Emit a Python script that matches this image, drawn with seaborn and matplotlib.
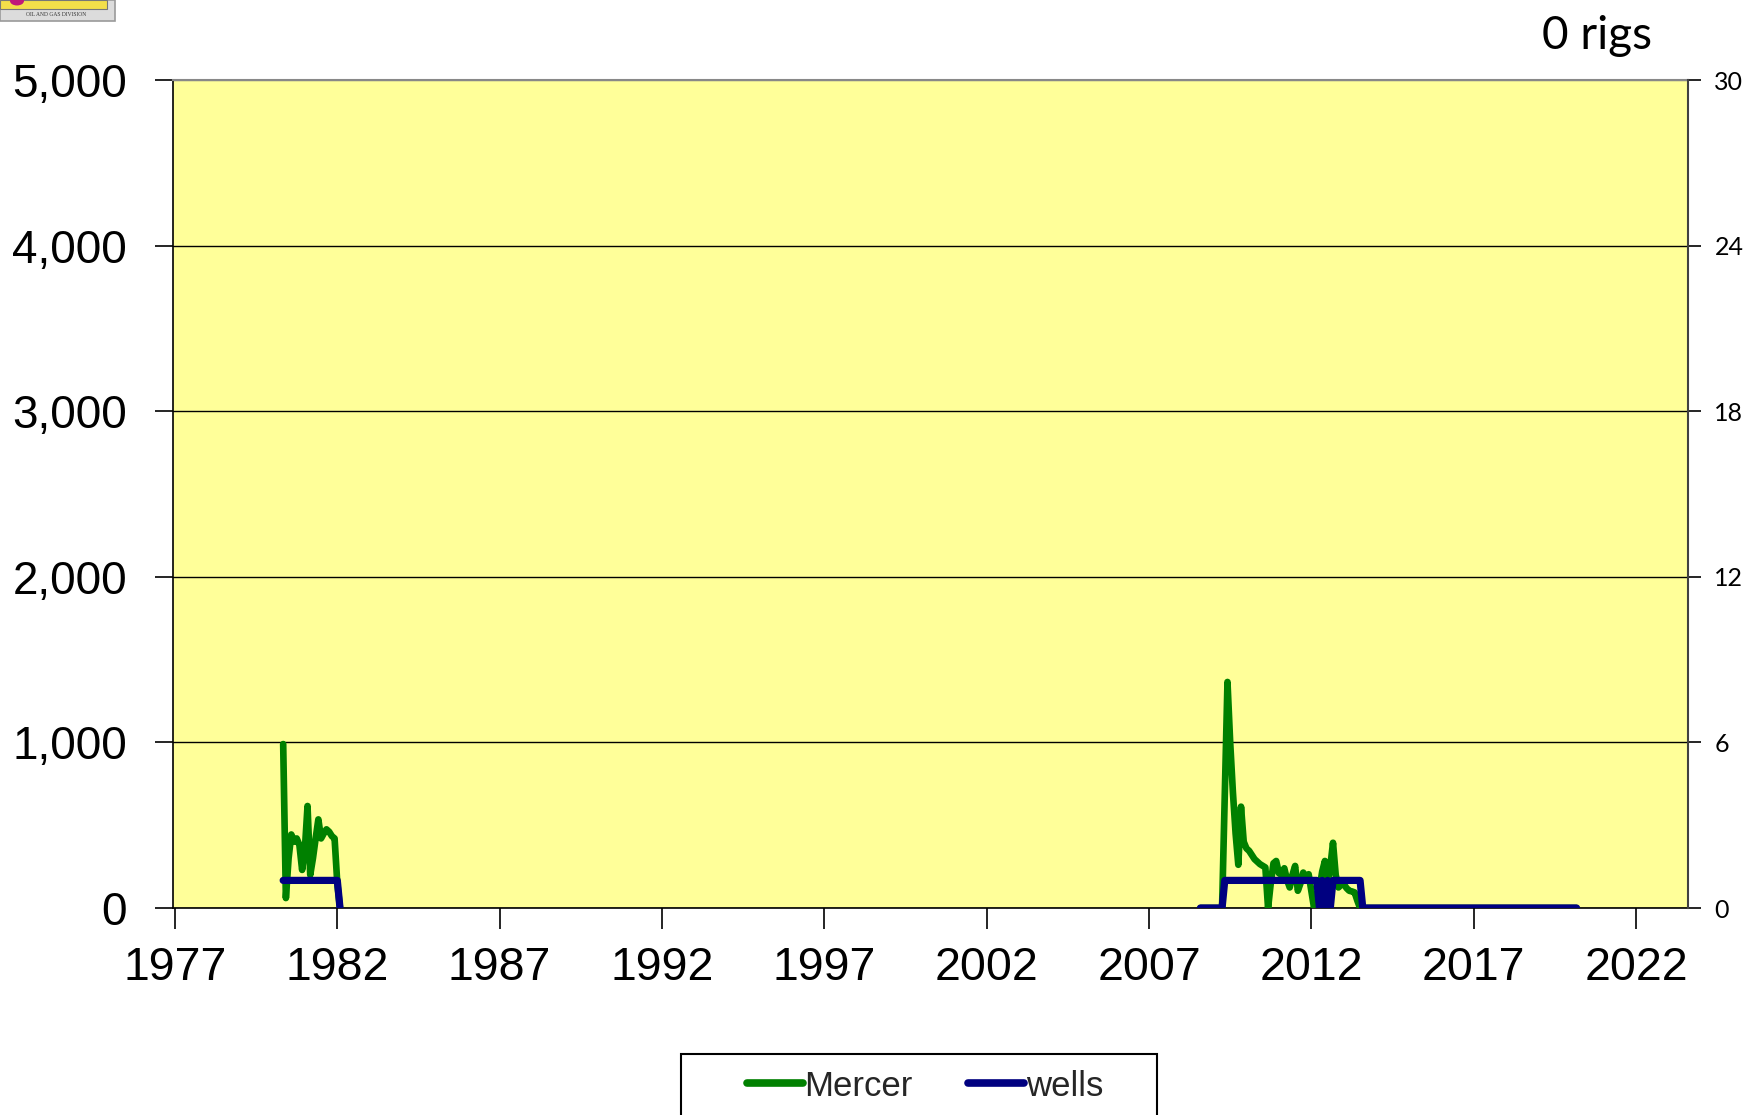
import numpy as np
import pandas as pd
import matplotlib
matplotlib.use("Agg")
import matplotlib.pyplot as plt
import seaborn as sns
from matplotlib.lines import Line2D
from matplotlib.patches import Rectangle, Circle
from matplotlib.ticker import FuncFormatter

# ---------------- data (monthly) ----------------
# period 1 starts May 1980
p1_start_year, p1_start_month = 1980, 5
mercer_1 = [990, 60, 300, 444, 400, 420, 380, 230, 350, 616, 200,
            300, 420, 535, 420, 450, 475, 460, 434, 420, 150, 0]
wells_1 = [1, 1, 1, 1, 1, 1, 1, 1, 1, 1, 1,
           1, 1, 1, 1, 1, 1, 1, 1, 1, 1, 0]

# period 2 starts Aug 2008
p2_start_year, p2_start_month = 2008, 8
mercer_2 = ([0, 0, 0, 0, 0, 0, 0, 0, 0,
             680, 1365, 1000, 700, 450, 261, 612, 400, 360, 345,
             320, 295, 280, 265, 255, 245, 0, 150, 270, 284,
             210, 200, 240, 170, 124, 200, 254, 104, 150, 214,
             180, 204, 100, 0, 80, 114, 220, 284, 144, 250,
             394, 200, 124, 140, 144, 120, 104, 100, 94, 44]
            + [0, 0, 0, 0, 0, 0, 0, 0, 0, 0, 0, 0, 0, 0, 0, 0, 0, 0, 0, 0,
               0, 0, 0, 0, 0, 0, 0, 0, 0, 0, 0, 0, 0, 0, 0, 0, 0, 0, 0, 0,
               0, 0, 0, 0, 0, 0, 0, 0, 0, 0, 0, 0, 0, 0, 0, 0, 0, 0, 0, 0,
               0, 0, 0, 0, 0, 0, 0, 0, 0, 0, 0, 0, 0, 0, 0, 0, 0, 0, 0, 0,
               0])
wells_2 = ([0, 0, 0, 0, 0, 0, 0, 0, 0]
           + [1, 1, 1, 1, 1, 1, 1, 1, 1, 1, 1, 1, 1, 1, 1, 1, 1, 1, 1, 1,
              1, 1, 1, 1, 1, 1, 1, 1, 1, 1, 1, 1, 1, 1, 1]
           + [0, 1, 0, 1, 0]
           + [1, 1, 1, 1, 1, 1, 1, 1, 1, 1, 1]
           + [0, 0, 0, 0, 0, 0, 0, 0, 0, 0, 0, 0, 0, 0, 0, 0, 0, 0, 0, 0,
              0, 0, 0, 0, 0, 0, 0, 0, 0, 0, 0, 0, 0, 0, 0, 0, 0, 0, 0, 0,
              0, 0, 0, 0, 0, 0, 0, 0, 0, 0, 0, 0, 0, 0, 0, 0, 0, 0, 0, 0,
              0, 0, 0, 0, 0, 0, 0, 0, 0, 0, 0, 0, 0, 0, 0, 0, 0, 0, 0, 0])

x_ticks = [1977, 1982, 1987, 1992, 1997, 2002, 2007, 2012, 2017, 2022]
left_ticks = [0, 1000, 2000, 3000, 4000, 5000]
right_ticks = [0, 6, 12, 18, 24, 30]
series_names = ["Mercer", "wells"]
rigs_text = "0 rigs"


def segment(y0, m0, mercer, wells, seg):
    dates = pd.date_range(f"{y0}-{m0:02d}-01", periods=len(mercer), freq="MS")
    year = dates.year + (dates.month - 1) / 12.0
    return pd.DataFrame({"year": year, "mercer": mercer, "wells": wells, "seg": seg})


df = pd.concat([segment(p1_start_year, p1_start_month, mercer_1, wells_1, 1),
                segment(p2_start_year, p2_start_month, mercer_2, wells_2, 2)],
               ignore_index=True)

# ---------------- figure ----------------
sns.set_style("ticks")
plt.rcParams["font.family"] = ["Liberation Sans", "DejaVu Sans"]

W, H = 1744, 1115
fig = plt.figure(figsize=(W / 100, H / 100), dpi=100)
L, R, T, B = 173, 1688, 80, 908
ax = fig.add_axes([L / W, 1 - B / H, (R - L) / W, (B - T) / H])
ax.set_facecolor("#FFFF99")

GREEN = "#008000"
NAVY = "#000080"

sns.lineplot(data=df, x="year", y="mercer", units="seg", estimator=None,
             color=GREEN, lw=4.8, ax=ax, legend=False,
             solid_capstyle="round", solid_joinstyle="round", zorder=3)

ax2 = ax.twinx()
sns.lineplot(data=df, x="year", y="wells", units="seg", estimator=None,
             color=NAVY, lw=5.2, ax=ax2, legend=False,
             solid_capstyle="round", solid_joinstyle="round", zorder=3)

ax.set_xlim(1976.94, 2023.6)
ax.set_ylim(0, 5000)
ax2.set_ylim(0, 30)
ax.set_xticks(x_ticks)
ax.set_yticks(left_ticks)
ax2.set_yticks(right_ticks)
ax.yaxis.set_major_formatter(FuncFormatter(lambda v, p: f"{int(v):,}"))
ax.set_xlabel("")
ax.set_ylabel("")
ax2.set_ylabel("")

ax.yaxis.grid(True, color="black", lw=1.0)
ax.xaxis.grid(False)
ax2.grid(False)
ax.get_ygridlines()[-1].set_color("#888888")

ax.tick_params(axis="y", direction="out", length=13, width=1.2, pad=20,
               labelsize=33, colors="black")
ax.tick_params(axis="x", direction="out", length=15, width=1.2, pad=12,
               labelsize=33.5, colors="black")
ax2.tick_params(axis="y", direction="out", length=9, width=1.2, pad=10,
                labelsize=18, colors="black")
for lbl in ax2.get_yticklabels():
    lbl.set_fontfamily("Lato")

for s in ["left", "bottom"]:
    ax.spines[s].set_color("black")
    ax.spines[s].set_linewidth(1.2)
ax.spines["top"].set_visible(True)
ax.spines["top"].set_color("#888888")
ax.spines["top"].set_linewidth(1.5)
ax.spines["right"].set_visible(False)
for s in ["left", "top", "bottom"]:
    ax2.spines[s].set_visible(False)
ax2.spines["right"].set_visible(True)
ax2.spines["right"].set_color("#404040")
ax2.spines["right"].set_linewidth(1.5)

# "0 rigs" label
fig.text(1597 / W, 1 - 36 / H, rigs_text, ha="center", va="center",
         fontsize=33, family=["Lato", "DejaVu Sans"], color="black")

# legend
handles = [Line2D([], [], color=GREEN, lw=5.5, solid_capstyle="round"),
           Line2D([], [], color=NAVY, lw=5.5, solid_capstyle="round")]
fig.legend(handles=handles, labels=series_names, ncol=2, loc="center",
           bbox_to_anchor=(925 / W, 1 - 1086 / H), frameon=False,
           fontsize=25, handlelength=1.6, handletextpad=0.05,
           columnspacing=1.6)
fig.add_artist(Rectangle((681 / W, -0.05), (1157 - 681) / W,
                         (1115 - 1054) / H + 0.05, transform=fig.transFigure,
                         fill=False, edgecolor="black", lw=1.5))

# partial logo in top-left corner
fig.add_artist(Rectangle((0, 1 - 21 / H), 115 / W, 21 / H,
                         transform=fig.transFigure, facecolor="#dcdcdc",
                         edgecolor="#9a9a9a", lw=1.2))
fig.add_artist(Rectangle((0, 1 - 9 / H), 107 / W, 9 / H,
                         transform=fig.transFigure, facecolor="#f3df4a",
                         edgecolor="#777777", lw=0.8))
fig.add_artist(Circle((17 / W, 1 - 1 / H), 7 / W, transform=fig.transFigure,
                      facecolor="#c0197a", edgecolor="none"))
fig.text(56 / W, 1 - 15 / H, "OIL AND GAS DIVISION", ha="center", va="center",
         fontsize=4, family="Liberation Serif", color="#333333")

fig.savefig("out.png", dpi=100)
